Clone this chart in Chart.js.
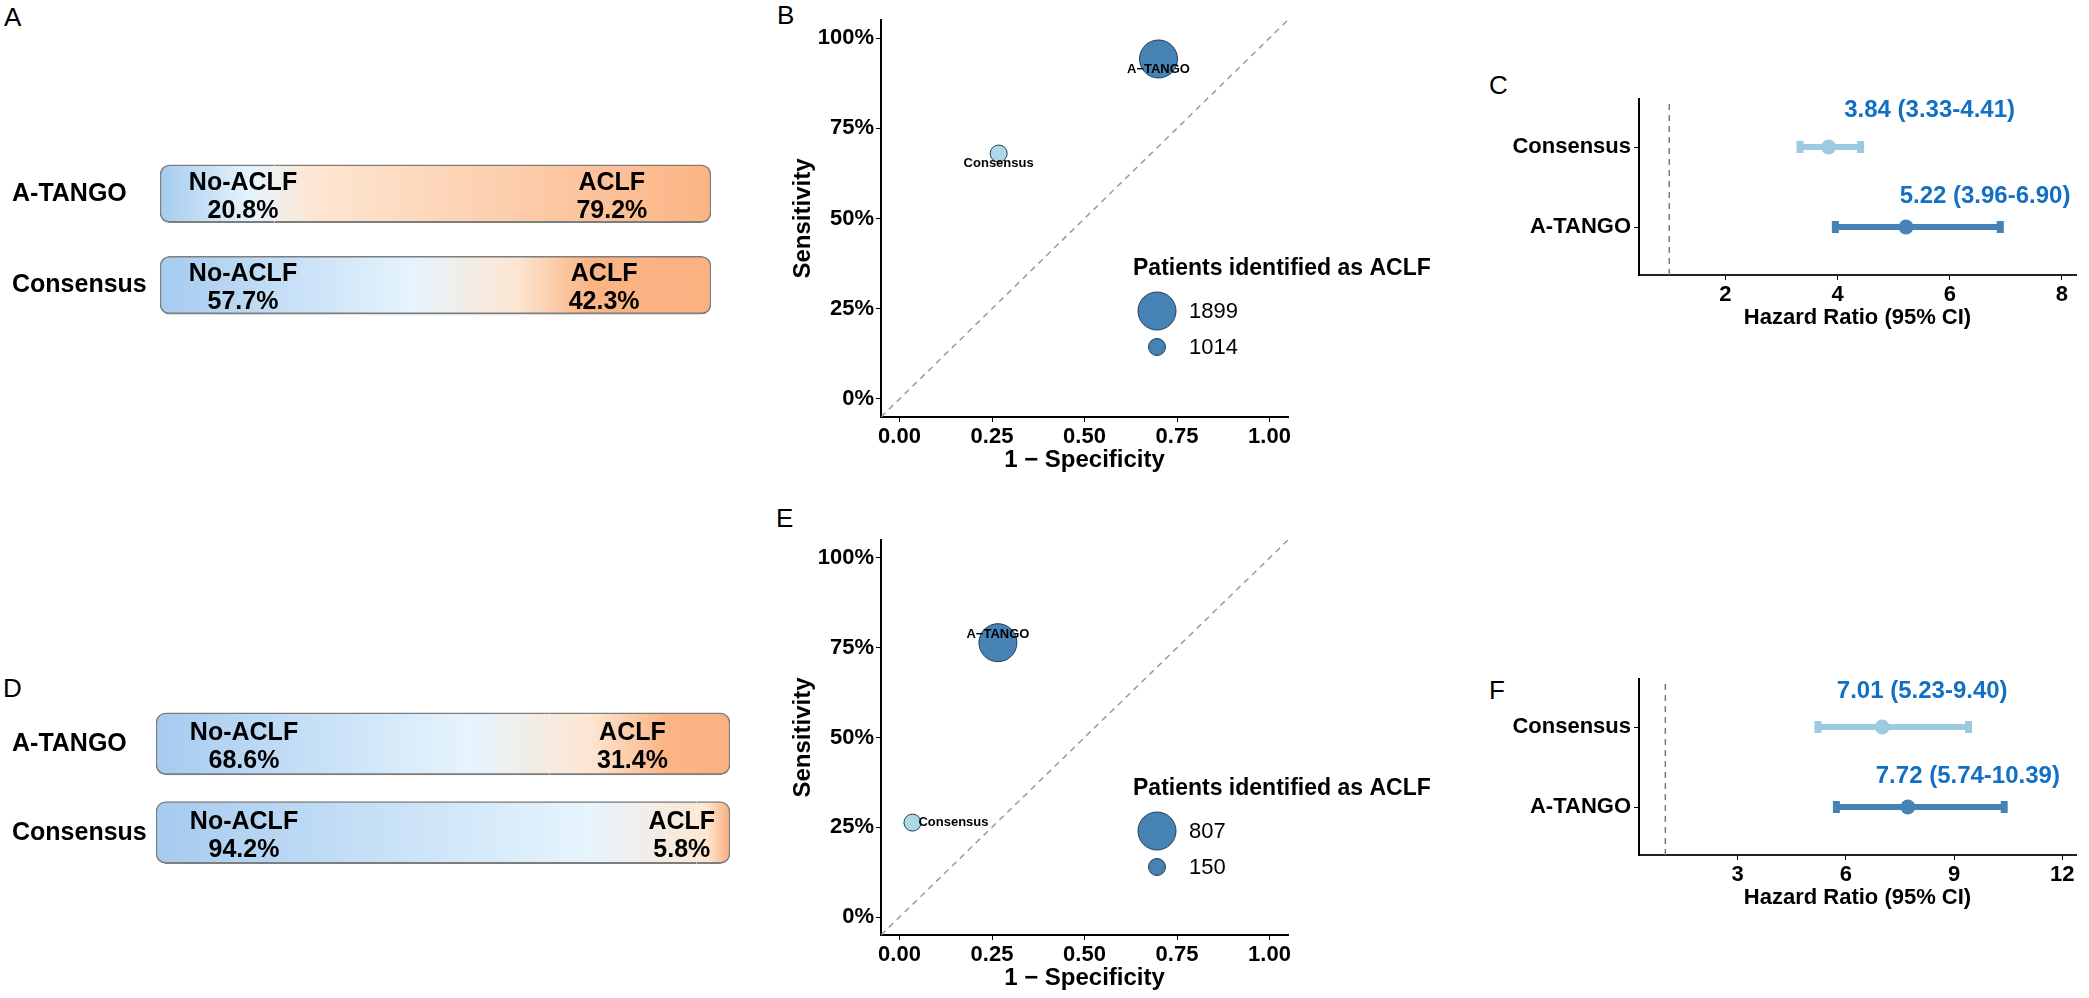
<!DOCTYPE html>
<html><head><meta charset="utf-8">
<script src="https://cdn.jsdelivr.net/npm/chart.js@4/dist/chart.umd.min.js"></script>
<style>
body{margin:0;background:#fff;width:2089px;height:998px;position:relative;overflow:hidden;font-family:"Liberation Sans",Arial,sans-serif}
canvas{position:absolute}
.lt{position:absolute;font-size:26px;line-height:30px;color:#000}
</style></head><body>
<div class="lt" style="left:4px;top:2px">A</div>
<div class="lt" style="left:777px;top:0px">B</div>
<div class="lt" style="left:1489px;top:70px">C</div>
<div class="lt" style="left:3px;top:673px">D</div>
<div class="lt" style="left:776px;top:503px">E</div>
<div class="lt" style="left:1489px;top:675px">F</div>
<canvas id="cA" style="left:0;top:120px" width="760" height="240"></canvas>
<canvas id="cD" style="left:0;top:652px" width="760" height="240"></canvas>
<canvas id="cB" style="left:700px;top:0" width="760" height="480"></canvas>
<canvas id="cE" style="left:700px;top:520px" width="760" height="478"></canvas>
<canvas id="cC" style="left:1450px;top:60px" width="639" height="300"></canvas>
<canvas id="cF" style="left:1450px;top:640px" width="639" height="300"></canvas>
<script>
// ---- data ----
const systems = ['A-TANGO','Consensus'];
const noAclfA = [20.8, 57.7];
const aclfA   = [79.2, 42.3];
const noAclfD = [68.6, 94.2];
const aclfD   = [31.4, 5.8];

const fprB = [0.70, 0.268];
const senB = [94.2, 68.0];
const nB   = [1899, 1014];
const fprE = [0.266, 0.035];
const senE = [76.4, 26.3];
const nE   = [807, 150];

const hrC = [5.22, 3.84], loC = [3.96, 3.33], hiC = [6.90, 4.41];
const hrF = [7.72, 7.01], loF = [5.74, 5.23], hiF = [10.39, 9.40];
const xTicksB = [0, 0.25, 0.5, 0.75, 1];
const yTicksB = [0, 25, 50, 75, 100];
const xTicksC = [2, 4, 6, 8];
const xTicksF = [3, 6, 9, 12];

const FONT = '"Liberation Sans", Arial, sans-serif';
Chart.defaults.font.family = FONT;
Chart.defaults.animation = false;
const DARK = '#4682b4', LIGHT = '#9ecae1', BUBLIGHT = '#add8e6';

// ---- A / D gradient bars ----
function barGrad(chart, p) {
  const xs = chart.scales.x; const ctx = chart.ctx;
  if (!xs || !chart.chartArea) return '#a6cbef';
  const x0 = xs.getPixelForValue(0), x1 = xs.getPixelForValue(100);
  const g = ctx.createLinearGradient(x0, 0, x1, 0);
  const f = p / 100;
  const cl = v => Math.max(0, Math.min(1, v));
  g.addColorStop(0, '#a6cbef');
  g.addColorStop(cl(f * 0.8), '#e6f4fd');
  g.addColorStop(Math.min(f + 0.07, 0.96), '#fde6d2');
  g.addColorStop(f > 0.5 ? Math.min(f + 0.2, 0.995) : 0.99, '#fbb585');
  g.addColorStop(1, '#fbb080');
  return g;
}
function barChart(id, noA, a, o) {
  const textPlugin = {
    id: 'txt' + id,
    afterDatasetsDraw(chart) {
      const c = chart.ctx, xs = chart.scales.x, ys = chart.scales.y;
      c.save(); c.fillStyle = '#000'; c.font = 'bold 25px ' + FONT;
      c.textAlign = 'center'; c.textBaseline = 'middle';
      systems.forEach((s, i) => {
        const y = ys.getPixelForValue(i);
        const L = xs.getPixelForValue(0), W = xs.getPixelForValue(100) - L;
        c.fillText('No-ACLF', L + o.noX, y - 11);
        c.fillText(noA[i].toFixed(1) + '%', L + o.noX, y + 17);
        c.fillText('ACLF', L + W * o.aX[i], y - 11);
        c.fillText(a[i].toFixed(1) + '%', L + W * o.aX[i], y + 17);
      });
      c.restore();
    }
  };
  new Chart(document.getElementById(id), {
    type: 'bar',
    data: { labels: systems, datasets: [
      { data: noA, backgroundColor: ctx => barGrad(ctx.chart, noA[ctx.dataIndex]),
        borderColor: '#7d7d7d', borderWidth: {top:1.5,bottom:2,left:1.5,right:0},
        borderRadius: {topLeft:10,bottomLeft:10,topRight:0,bottomRight:0}, borderSkipped: false,
        barThickness: o.th },
      { data: a, backgroundColor: ctx => barGrad(ctx.chart, noA[ctx.dataIndex]),
        borderColor: '#7d7d7d', borderWidth: {top:1.5,bottom:2,left:0,right:1.5},
        borderRadius: {topLeft:0,bottomLeft:0,topRight:10,bottomRight:10}, borderSkipped: false,
        barThickness: o.th }
    ]},
    options: {
      indexAxis: 'y', responsive: false,
      layout: { padding: { left: 12, top: o.top, bottom: o.bot, right: 760 - o.right } },
      plugins: { legend: {display:false}, tooltip: {enabled:false} },
      scales: {
        x: { stacked: true, min: 0, max: 100, display: false },
        y: { stacked: true, grid: {display:false}, border: {display:false},
             ticks: { crossAlign: 'far', color: '#000', font: {size: 25, weight: 'bold'}, padding: 0 },
             afterFit: s => { s.width = o.left - 12; } }
      }
    },
    plugins: [textPlugin]
  });
}
barChart('cA', noAclfA, aclfA, {top:28, bot:29, left:160, right:711, th:58, noX:83, aX:[0.82,0.806]});
barChart('cD', noAclfD, aclfD, {top:47.5, bot:5.5, left:156, right:730, th:62, noX:88, aX:[0.83,0.916]});

// ---- B / E bubble charts ----
function rScale(n, arr) {
  const mn = Math.min(...arr), mx = Math.max(...arr);
  return 8.5 + (n - mn) / (mx - mn) * 10.5;
}
function bubbleChart(id, fpr, sen, n, lab, H) {
  const pts = systems.map((s, i) => ({ x: fpr[i], y: sen[i], r: rScale(n[i], n) }));
  const deco = {
    id: 'deco' + id,
    afterDatasetsDraw(chart) {
      const c = chart.ctx, a = chart.chartArea, xs = chart.scales.x, ys = chart.scales.y;
      c.save(); c.fillStyle = '#000';
      systems.forEach((s, i) => {
        const L = lab[i];
        c.font = 'bold 13px ' + FONT; c.textAlign = L.align; c.textBaseline = 'middle';
        c.fillText(s.replace('-', '\u2212'), xs.getPixelForValue(fpr[i]) + L.dx, ys.getPixelForValue(sen[i]) + L.dy);
      });
      c.font = 'bold 24px ' + FONT; c.textAlign = 'center'; c.textBaseline = 'middle';
      c.fillText('1 \u2212 Specificity', (a.left + a.right) / 2, a.bottom + 43);
      c.save(); c.translate(a.left - 78, (a.top + a.bottom) / 2); c.rotate(-Math.PI / 2);
      c.fillText('Sensitivity', 0, 0); c.restore();
      const lx = a.left + 252, ty = a.top + 249;
      c.textAlign = 'left'; c.font = 'bold 23px ' + FONT;
      c.fillText('Patients identified as ACLF', lx, ty);
      const sorted = [...n].sort((p, q) => q - p);
      sorted.forEach((v, k) => {
        const cy = ty + (k === 0 ? 42 : 78), cx = lx + 24;
        c.beginPath(); c.arc(cx, cy, rScale(v, n), 0, Math.PI * 2);
        c.fillStyle = DARK; c.fill(); c.lineWidth = 1; c.strokeStyle = '#1f3d5a'; c.stroke();
        c.fillStyle = '#000'; c.font = '22px ' + FONT; c.fillText(String(v), lx + 56, cy + 1);
      });
      c.restore();
    }
  };
  new Chart(document.getElementById(id), {
    data: { datasets: [
      { type: 'line', data: [{x:-0.05,y:-5},{x:1.05,y:105}], borderColor: '#9a9a9a', borderWidth: 1.5,
        borderDash: [6, 5], pointRadius: 0 },
      { type: 'bubble', data: pts, backgroundColor: [DARK, BUBLIGHT], borderColor: '#1f3d5a', borderWidth: 1 }
    ]},
    options: {
      responsive: false,
      layout: { padding: { top: 13, right: 172 } },
      plugins: { legend: {display:false}, tooltip: {enabled:false} },
      scales: {
        x: { type: 'linear', min: -0.05, max: 1.05,
             afterBuildTicks: s => { s.ticks = xTicksB.map(v => ({value: v})); },
             grid: { drawOnChartArea: false, color: '#000', tickLength: 5 },
             border: { color: '#000', width: 2 },
             ticks: { color: '#000', font: {size: 22, weight: 'bold'}, padding: 2, callback: v => v.toFixed(2) },
             afterFit: s => { s.height = H - 417; } },
        y: { type: 'linear', min: -5, max: 105,
             afterBuildTicks: s => { s.ticks = yTicksB.map(v => ({value: v})); },
             grid: { drawOnChartArea: false, color: '#000', tickLength: 5 },
             border: { color: '#000', width: 2 },
             ticks: { color: '#000', font: {size: 22, weight: 'bold'}, padding: 2, callback: v => v + '%' },
             afterFit: s => { s.width = 181; } }
      }
    },
    plugins: [deco]
  });
}
bubbleChart('cB', fprB, senB, nB, [{dx:0,dy:10,align:'center'},{dx:0,dy:10,align:'center'}], 480);
bubbleChart('cE', fprE, senE, nE, [{dx:0,dy:-8,align:'center'},{dx:6,dy:0,align:'left'}], 480);

// ---- C / F forest plots ----
function forest(id, hr, lo, hi, xmin, xmax, ticks, lab) {
  const cols = [DARK, LIGHT];
  const ds = [];
  ds.push({ type: 'line', data: [{x:1,y:0.4},{x:1,y:2.6}], borderColor: '#777', borderWidth: 1.5, borderDash: [6,5], pointRadius: 0 });
  systems.forEach((s, i) => {
    ds.push({ type: 'line', data: [{x: lo[i], y: i + 1}, {x: hi[i], y: i + 1}], borderColor: cols[i], borderWidth: 6,
      pointStyle: 'line', rotation: 90, pointRadius: 6, pointBorderColor: cols[i], pointBorderWidth: 7 });
    ds.push({ type: 'scatter', data: [{x: hr[i], y: i + 1}], backgroundColor: cols[i], pointRadius: 7.5, borderWidth: 0 });
  });
  const deco = {
    id: 'f' + id,
    afterDatasetsDraw(chart) {
      const c = chart.ctx, a = chart.chartArea, xs = chart.scales.x, ys = chart.scales.y;
      c.save(); c.textAlign = 'center'; c.textBaseline = 'middle';
      c.font = 'bold 24px ' + FONT; c.fillStyle = '#1270c4';
      systems.forEach((s, i) => {
        const t = hr[i].toFixed(2) + ' (' + lo[i].toFixed(2) + '-' + hi[i].toFixed(2) + ')';
        c.fillText(t, xs.getPixelForValue(hr[i]) + lab[i].dx, ys.getPixelForValue(i + 1) + lab[i].dy);
      });
      c.fillStyle = '#000'; c.font = 'bold 22px ' + FONT;
      c.fillText('Hazard Ratio (95% CI)', (a.left + a.right) / 2, a.bottom + 43);
      c.restore();
    }
  };
  new Chart(document.getElementById(id), {
    data: { datasets: ds },
    options: {
      responsive: false,
      layout: { padding: { top: 39, right: 10 } },
      plugins: { legend: {display:false}, tooltip: {enabled:false} },
      scales: {
        x: { type: 'linear', min: xmin, max: xmax,
             afterBuildTicks: s => { s.ticks = ticks.map(v => ({value: v})); },
             grid: { drawOnChartArea: false, color: '#000', tickLength: 5 },
             border: { color: '#222', width: 2 },
             ticks: { color: '#000', font: {size: 22, weight: 'bold'}, padding: 2 },
             afterFit: s => { s.height = 85; } },
        y: { type: 'linear', min: 0.4, max: 2.6,
             afterBuildTicks: s => { s.ticks = [1, 2].map(v => ({value: v})); },
             grid: { drawOnChartArea: false, color: '#000', tickLength: 5 },
             border: { color: '#000', width: 2 },
             ticks: { color: '#000', font: {size: 22, weight: 'bold'}, padding: 3, callback: v => systems[v - 1] },
             afterFit: s => { s.width = 189; } }
      }
    },
    plugins: [deco]
  });
}
forest('cC', hrC, loC, hiC, 0.46, 8.25, xTicksC, [{dx:79,dy:-31},{dx:101,dy:-37}]);
forest('cF', hrF, loF, hiF, 0.27, 12.38, xTicksF, [{dx:60,dy:-31},{dx:40,dy:-36}]);
</script>
</body></html>
